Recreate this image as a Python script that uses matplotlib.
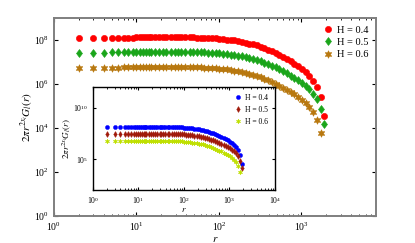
import numpy as np
import matplotlib
matplotlib.use("Agg")
import matplotlib.pyplot as plt
from matplotlib.ticker import LogLocator, NullLocator

plt.rcParams['font.family'] = 'serif'
plt.rcParams['font.serif'] = ['Liberation Serif', 'DejaVu Serif']
plt.rcParams['mathtext.fontset'] = 'stix'

# distances r
r = [2, 3, 4, 5, 6, 7, 8, 9, 10, 11, 12, 13, 14, 15,
     17, 19, 21, 23, 26, 29, 32, 35, 39, 44,
     48, 54, 60, 66, 74, 82, 91, 101, 112, 124,
     138, 153, 170, 189, 210, 233, 259, 287, 319, 354,
     393, 437, 485, 540, 600,
     665, 740, 820, 910, 1010, 1120, 1250, 1390, 1550, 1720, 1890]

# log10 of 2 pi r^{2x_l} G_l(r)
log_h04 = [8.08, 8.09, 8.09, 8.10, 8.10, 8.11, 8.11, 8.11, 8.12, 8.12, 8.12, 8.12, 8.12, 8.13,
           8.13, 8.13, 8.13, 8.13, 8.13, 8.13, 8.13, 8.13, 8.12, 8.12,
           8.12, 8.11, 8.11, 8.10, 8.09, 8.08, 8.07, 8.05, 8.04, 8.02,
           8.00, 7.98, 7.95, 7.92, 7.88, 7.84, 7.80, 7.75, 7.69, 7.63,
           7.56, 7.49, 7.41, 7.33, 7.24,
           7.12, 7.03, 6.93, 6.81, 6.68, 6.55, 6.38, 6.15, 5.88, 5.40, 4.55]
log_h05 = [7.42, 7.43, 7.43, 7.44, 7.44, 7.45, 7.45, 7.45, 7.46, 7.46, 7.46, 7.46, 7.46, 7.47,
           7.47, 7.47, 7.47, 7.47, 7.47, 7.47, 7.47, 7.47, 7.46, 7.46,
           7.46, 7.45, 7.45, 7.44, 7.43, 7.42, 7.41, 7.39, 7.38, 7.36,
           7.34, 7.32, 7.29, 7.26, 7.22, 7.18, 7.14, 7.09, 7.03, 6.97,
           6.90, 6.83, 6.75, 6.67, 6.58,
           6.48, 6.38, 6.28, 6.17, 6.05, 5.92, 5.76, 5.56, 5.30, 4.85, 4.17]
log_h06 = [6.72, 6.73, 6.73, 6.74, 6.74, 6.75, 6.75, 6.75, 6.76, 6.76, 6.76, 6.76, 6.76, 6.77,
           6.77, 6.77, 6.77, 6.77, 6.77, 6.77, 6.77, 6.77, 6.76, 6.76,
           6.76, 6.75, 6.75, 6.74, 6.73, 6.72, 6.71, 6.69, 6.68, 6.66,
           6.64, 6.61, 6.58, 6.55, 6.51, 6.47, 6.42, 6.36, 6.30, 6.23,
           6.16, 6.08, 6.00, 5.92, 5.83,
           5.74, 5.64, 5.53, 5.41, 5.28, 5.13, 4.95, 4.72, 4.38, 3.79]

labels = ['H = 0.4', 'H = 0.5', 'H = 0.6']
ylab = r'$2\pi r^{2x_l}G_l(r)$'

r = np.array(r)
series = [np.power(10.0, log_h04), np.power(10.0, log_h05), np.power(10.0, log_h06)]

fig = plt.figure(figsize=(4.15, 2.43), dpi=100)

# main axes
ax = fig.add_axes([0.130, 0.111, 0.776, 0.815])
main_colors = ['#ff0000', '#1aa51a', '#b8780f']
main_markers = ['o', 'd', (6, 1, 0)]
main_ms = [4.5, 4.5, 5.5]
for y, c, m, ms, lab in zip(series, main_colors, main_markers, main_ms, labels):
    ax.plot(r[:len(y)], y, linestyle='none', marker=m, color=c, markersize=ms,
            markeredgewidth=0.4, label=lab)
ax.set_xscale('log')
ax.set_yscale('log')
ax.set_xlim(1, 8000)
ax.set_ylim(1, 1e9)
ax.set_yticks([1, 1e2, 1e4, 1e6, 1e8])
ax.yaxis.set_minor_locator(NullLocator())
ax.xaxis.set_major_locator(LogLocator(base=10, numticks=10))
ax.tick_params(which='both', direction='in', top=True, right=True, labelsize=7)
ax.tick_params(which='major', length=3)
ax.tick_params(which='minor', length=1.5)
for s in ax.spines.values():
    s.set_color('#7f7f7f')
    s.set_linewidth(1.4)
ax.set_xlabel(r'$r$', fontsize=8, labelpad=1)
ax.set_ylabel(ylab, fontsize=8, labelpad=-1)
ax.legend(loc='upper right', frameon=False, fontsize=7.5, handletextpad=0.3,
          labelspacing=0.3, borderaxespad=0.3, handlelength=1.2)

# inset
ins = fig.add_axes([0.224, 0.218, 0.4386, 0.424])
ins_colors = ['#0000ff', '#a01a0a', '#bfe000']
ins_markers = ['o', 'd', (6, 1, 0)]
ins_ms = [3, 3, 3.5]
for y, c, m, ms, lab in zip(series, ins_colors, ins_markers, ins_ms, labels):
    ins.plot(r[:len(y)], y, linestyle='none', marker=m, color=c, markersize=ms,
             markeredgewidth=0.3, label=lab)
ins.set_xscale('log')
ins.set_yscale('log')
ins.set_xlim(1, 1e4)
ins.set_ylim(1e2, 1e12)
ins.set_yticks([1e5, 1e10])
ins.yaxis.set_minor_locator(NullLocator())
ins.tick_params(which='both', direction='in', top=True, right=True, labelsize=5.5)
ins.tick_params(which='major', length=2.5)
ins.tick_params(which='minor', length=1.2)
for s in ins.spines.values():
    s.set_linewidth(1.0)
ins.set_xlabel(r'$r$', fontsize=6.5, labelpad=0)
ins.set_ylabel(ylab, fontsize=6.5, labelpad=0)
ins.legend(loc='upper right', frameon=False, fontsize=5.5, handletextpad=0.4,
           labelspacing=0.5, borderaxespad=0.5, handlelength=1.0)

fig.savefig('out.png', dpi=100)
